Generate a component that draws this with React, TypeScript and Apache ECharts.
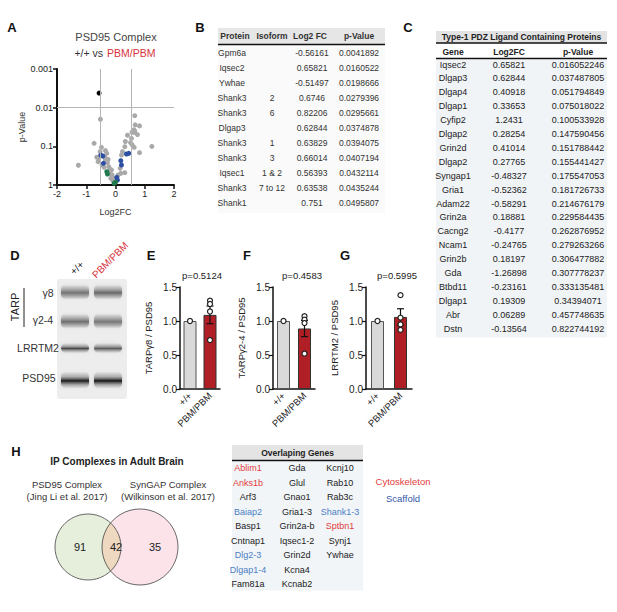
import React, { useEffect, useRef } from 'react';
import * as echarts from 'echarts';

const FONT = '"Liberation Sans", Arial, Helvetica, sans-serif';

// ---------- Panel A: volcano ----------
const volcanoGray: [number, number][] = [
  [0.658, 0.0161], [0.6746, 0.0279], [0.822, 0.0296], [0.628, 0.0375], [0.638, 0.0394],
  [0.66, 0.0407], [0.564, 0.0432], [0.635, 0.0435], [0.751, 0.0496], [0.41, 0.0518],
  [0.547, 0.062], [0.337, 0.075], [0.512, 0.08], [0.57, 0.092], [0.638, 0.106],
  [0.318, 0.102], [1.243, 0.1005], [0.238, 0.137], [0.204, 0.168], [0.821, 0.146],
  [0.159, 0.371], [0.318, 0.48], [0.181, 0.499], [0.09, 0.55], [-0.115, 0.55],
  [-0.161, 0.673], [-0.207, 0.499], [-0.093, 0.77], [-0.024, 0.686],
  [-0.732, 0.0836], [-0.481, 0.106], [-0.344, 0.129], [-0.298, 0.152], [-0.572, 0.204],
  [-0.344, 0.225], [-0.595, 0.249], [-0.458, 0.304], [-0.275, 0.265], [-0.23, 0.336],
  [-0.39, 0.349], [-0.184, 0.394], [-0.138, 0.409], [-0.207, 0.48], [-0.367, 0.192],
  [-0.527, 0.137], [-0.64, 0.192], [-0.252, 0.217], [-1.269, 0.3078], [-0.515, 0.0199],
];
const volcanoBlue: [number, number][] = [
  [0.455, 0.152], [0.375, 0.158], [0.181, 0.235], [0.204, 0.304], [0.044, 0.634],
  [0.067, 0.743], [-0.504, 0.168], [-0.435, 0.178], [-0.412, 0.275],
];
const volcanoGreen: [number, number][] = [[-0.298, 0.452], [-0.275, 0.52], [0.0, 0.85], [-0.047, 0.9]];
const volcanoBlack: [number, number][] = [[-0.56161, 0.0041892]];
const FC_LINES = [-0.53, 0.53];
const P_LINE = 0.01;

// ---------- Panel B table ----------
const bProtein = ['Gpm6a', 'Iqsec2', 'Ywhae', 'Shank3', 'Shank3', 'Dlgap3', 'Shank3', 'Shank3', 'Iqsec1', 'Shank3', 'Shank1'];
const bIsoform = ['', '', '', '2', '6', '', '1', '3', '1 & 2', '7 to 12', ''];
const bLog2 = [-0.56161, 0.65821, -0.51497, 0.6746, 0.82206, 0.62844, 0.63829, 0.66014, 0.56393, 0.63538, 0.751];
const bP = [0.0041892, 0.0160522, 0.0198666, 0.0279396, 0.0295661, 0.0374878, 0.0394075, 0.0407194, 0.0432114, 0.0435244, 0.0495807];

// ---------- Panel C table ----------
const cGene = ['Iqsec2', 'Dlgap3', 'Dlgap4', 'Dlgap1', 'Cyfip2', 'Dlgap2', 'Grin2d', 'Dlgap2', 'Syngap1', 'Gria1',
  'Adam22', 'Grin2a', 'Cacng2', 'Ncam1', 'Grin2b', 'Gda', 'Btbd11', 'Dlgap1', 'Abr', 'Dstn'];
const cLog2 = [0.65821, 0.62844, 0.40918, 0.33653, 1.2431, 0.28254, 0.41014, 0.27765, -0.48327, -0.52362,
  -0.58291, 0.18881, -0.4177, -0.24765, 0.18197, -1.26898, -0.23161, 0.19309, 0.06289, -0.13564];
const cP = [0.016052246, 0.037487805, 0.051794849, 0.075018022, 0.100533928, 0.147590456, 0.151788442, 0.155441427,
  0.175547053, 0.181726733, 0.214676179, 0.229584435, 0.262876952, 0.279263266, 0.306477882, 0.307778237,
  0.333135481, 0.34394071, 0.457748635, 0.822744192];

// ---------- Panels E-G ----------
const barCats = ['+/+', 'PBM/PBM'];
const barNames = ['TARPγ8 / PSD95', 'TARPγ2-4 / PSD95', 'LRRTM2 / PSD95'];
const barPvals = ['p=0.5124', 'p=0.4583', 'p=0.5995'];
const wtMeans = [1.0, 1.0, 1.0];
const pbmMeans = [1.09, 0.89, 1.06];
const pbmSems = [0.13, 0.12, 0.12];
const pbmDots = [[1.3, 1.25, 1.14, 0.72], [1.07, 1.02, 0.97, 0.52], [1.38, 1.05, 0.95, 0.87]];
const barTicks = [0, 0.5, 1.0, 1.5];

// ---------- Panel H ----------
const vennCounts = [91, 42, 35];
const vennSets = ['PSD95 Complex', 'SynGAP Complex'];
const vennRefs = ['(Jing Li et al. 2017)', '(Wilkinson et al. 2017)'];
const overlapCols: [string, string][][] = [
  [['Ablim1', 'c'], ['Anks1b', 'c'], ['Arf3', ''], ['Baiap2', 's'], ['Basp1', ''], ['Cntnap1', ''], ['Dlg2-3', 's'], ['Dlgap1-4', 's'], ['Fam81a', '']],
  [['Gda', ''], ['Glul', ''], ['Gnao1', ''], ['Gria1-3', ''], ['Grin2a-b', ''], ['Iqsec1-2', ''], ['Grin2d', ''], ['Kcna4', ''], ['Kcnab2', '']],
  [['Kcnj10', ''], ['Rab10', ''], ['Rab3c', ''], ['Shank1-3', 's'], ['Sptbn1', 'c'], ['Synj1', ''], ['Ywhae', '']],
];

const RED = '#e23b3b';
const BLUE = '#4d80c4';

function txt(x: number, y: number, text: string, o: any = {}) {
  return {
    type: 'text', x, y, rotation: o.rotation || 0, z: o.z || 10,
    style: {
      text, fill: o.color || '#222', fontSize: o.size || 9, fontWeight: o.weight || 'normal',
      fontFamily: FONT, textAlign: o.align || 'center', textVerticalAlign: o.valign || 'middle',
    },
  };
}
function rect(x: number, y: number, w: number, h: number, fill: string, z = 1) {
  return { type: 'rect', z, shape: { x, y, width: w, height: h }, style: { fill } };
}
function hline(x1: number, x2: number, y: number, w = 1.5, color = '#111') {
  return { type: 'line', z: 5, shape: { x1, y1: y, x2, y2: y }, style: { stroke: color, lineWidth: w } };
}

export default function App() {
  const ref = useRef<HTMLDivElement>(null);
  useEffect(() => {
    const el = ref.current!;
    const chart = echarts.init(el, null, { renderer: 'svg' });

    // Venn geometry and lens polygon
    const c1 = { x: 88, y: 547, r: 33 };
    const c2 = { x: 140, y: 547, r: 38 };
    const d = c2.x - c1.x;
    const a = (d * d + c1.r * c1.r - c2.r * c2.r) / (2 * d);
    const h = Math.sqrt(c1.r * c1.r - a * a);
    const phi2 = Math.atan2(h, c2.x - (c1.x + a));
    const phi1 = Math.atan2(h, a);
    const lens: number[][] = [];
    const N = 40;
    for (let k = 0; k <= N; k++) {
      const s = phi2 - (2 * phi2 * k) / N;
      lens.push([c2.x - c2.r * Math.cos(s), c2.y - c2.r * Math.sin(s)]);
    }
    for (let k = 0; k <= N; k++) {
      const s = phi1 - (2 * phi1 * k) / N;
      lens.push([c1.x + c1.r * Math.cos(s), c1.y + c1.r * Math.sin(s)]);
    }

    const graphics: any[] = [];
    // panel letters
    [['A', 12, 27], ['B', 200, 27], ['C', 408, 27], ['D', 15, 255], ['E', 151, 255], ['F', 247, 255], ['G', 345, 255], ['H', 16, 451]]
      .forEach(([l, x, y]) => graphics.push(txt(x as number, y as number, l as string, { size: 13, weight: 'bold', color: '#111' })));

    // Panel A titles
    graphics.push(txt(116, 37, 'PSD95 Complex', { size: 11, color: '#444' }));
    graphics.push(txt(106, 53, '+/+ vs ', { size: 10.5, color: '#333', align: 'right' }));
    graphics.push(txt(107, 53, 'PBM/PBM', { size: 10.5, color: '#d8333d', align: 'left' }));

    // Panel B table
    const bx0 = 218, bx1 = 385;
    graphics.push(rect(bx0, 28, bx1 - bx0, 16, '#e6e6e6'));
    graphics.push(rect(bx0, 45, bx1 - bx0, 168, '#fafafa'));
    graphics.push(hline(bx0, bx1, 44.5, 1.6));
    const bCols = [235, 272, 310, 359];
    ['Protein', 'Isoform', 'Log2 FC', 'p-Value'].forEach((t, i) => graphics.push(txt(bCols[i], 36, t, { size: 8.5, weight: 'bold', color: '#333' })));
    bProtein.forEach((p, i) => {
      const y = 53 + i * 15;
      graphics.push(txt(bCols[0] - 3, y, p, { size: 8.5, color: '#333' }));
      graphics.push(txt(bCols[1], y, bIsoform[i], { size: 8.5, color: '#333' }));
      graphics.push(txt(bCols[2] + 2, y, String(bLog2[i]), { size: 8.5, color: '#333' }));
      graphics.push(txt(bCols[3], y, String(bP[i]), { size: 8.5, color: '#333' }));
    });

    // Panel C table
    const cx0 = 436, cx1 = 607;
    graphics.push(rect(cx0, 31, cx1 - cx0, 12, '#e3e3e3'));
    graphics.push(hline(cx0, cx1, 43, 1.6));
    graphics.push(txt((cx0 + cx1) / 2, 37, 'Type-1 PDZ Ligand Containing Proteins', { size: 8.5, weight: 'bold', color: '#222' }));
    const cCols = [453, 509, 578];
    ['Gene', 'Log2FC', 'p-Value'].forEach((t, i) => graphics.push(txt(cCols[i], 51.5, t, { size: 8.5, weight: 'bold', color: '#222' })));
    graphics.push(hline(cx0, cx1, 58.5, 1.6));
    graphics.push(rect(cx0, 59.5, cx1 - cx0, 278, '#f1f4f7'));
    cGene.forEach((g, i) => {
      const y = 64.5 + i * 13.9;
      graphics.push(txt(cCols[0], y, g, { size: 9, color: '#222' }));
      graphics.push(txt(cCols[1], y, String(cLog2[i]), { size: 9, color: '#222' }));
      graphics.push(txt(cCols[2], y, String(cP[i]), { size: 9, color: '#222' }));
    });

    // Panel D blot
    graphics.push(txt(77, 268, '+/+', { size: 10, color: '#222', rotation: Math.PI / 4 }));
    graphics.push(txt(110, 260, 'PBM/PBM', { size: 10, color: '#d8333d', rotation: Math.PI / 4 }));
    graphics.push(txt(15, 307, 'TARP', { size: 11, color: '#222', rotation: Math.PI / 2 }));
    graphics.push({ type: 'line', z: 5, shape: { x1: 24, y1: 288, x2: 24, y2: 327 }, style: { stroke: '#222', lineWidth: 1 } });
    graphics.push(txt(48, 293, 'γ8', { size: 10.5, color: '#333' }));
    graphics.push(txt(43, 320, 'γ2-4', { size: 10.5, color: '#333' }));
    graphics.push(txt(38, 348, 'LRRTM2', { size: 10.5, color: '#333' }));
    graphics.push(txt(39, 378, 'PSD95', { size: 10.5, color: '#333' }));
    graphics.push({ type: 'rect', z: 1, shape: { x: 57, y: 279, width: 70, height: 120, r: 3 }, style: { fill: '#ededed' } });
    const lanes = [61, 94];
    const bands = [
      { y: 292, h: 15, c: ['rgba(100,100,100,0.85)', 'rgba(95,95,95,0.9)'] },
      { y: 321, h: 15, c: ['rgba(95,95,95,0.85)', 'rgba(100,100,100,0.8)'] },
      { y: 348, h: 10, c: ['rgba(60,60,60,0.9)', 'rgba(75,75,75,0.85)'] },
      { y: 380, h: 17, c: ['rgba(20,20,20,1)', 'rgba(15,15,15,1)'] },
    ];
    bands.forEach((b) => lanes.forEach((lx, li) => {
      graphics.push({
        type: 'rect', z: 2, shape: { x: lx, y: b.y - b.h / 2, width: 28, height: b.h, r: 5 },
        style: {
          shadowBlur: 3, shadowColor: 'rgba(120,120,120,0.5)',
          fill: new echarts.graphic.LinearGradient(0, 0, 0, 1, [
            { offset: 0, color: 'rgba(140,140,140,0)' },
            { offset: 0.3, color: 'rgba(130,130,130,0.45)' },
            { offset: 0.55, color: b.c[li] },
            { offset: 0.8, color: 'rgba(130,130,130,0.45)' },
            { offset: 1, color: 'rgba(140,140,140,0)' },
          ]),
        },
      });
    }));

    // E-G p labels
    const pX = [202, 302, 397];
    barPvals.forEach((p, i) => graphics.push(txt(pX[i], 275, p, { size: 9.5, color: '#222' })));

    // Panel H Venn
    graphics.push(txt(117, 461, 'IP Complexes in Adult Brain', { size: 10, weight: 'bold', color: '#222' }));
    graphics.push(txt(67, 484, vennSets[0], { size: 9.5, color: '#333' }));
    graphics.push(txt(67, 496, vennRefs[0], { size: 9.5, color: '#333' }));
    graphics.push(txt(168, 484, vennSets[1], { size: 9.5, color: '#333' }));
    graphics.push(txt(168, 496, vennRefs[1], { size: 9.5, color: '#333' }));
    graphics.push({ type: 'circle', z: 1, shape: { cx: c1.x, cy: c1.y, r: c1.r }, style: { fill: '#e5efdb' } });
    graphics.push({ type: 'circle', z: 1, shape: { cx: c2.x, cy: c2.y, r: c2.r }, style: { fill: '#fce3ea' } });
    graphics.push({ type: 'polygon', z: 2, shape: { points: lens }, style: { fill: '#efd8c0' } });
    graphics.push({ type: 'circle', z: 3, shape: { cx: c1.x, cy: c1.y, r: c1.r }, style: { fill: 'none', stroke: '#444', lineWidth: 0.8 } });
    graphics.push({ type: 'circle', z: 3, shape: { cx: c2.x, cy: c2.y, r: c2.r }, style: { fill: 'none', stroke: '#444', lineWidth: 0.8 } });
    graphics.push(txt(80, 547, String(vennCounts[0]), { size: 11, color: '#222' }));
    graphics.push(txt(116, 547, String(vennCounts[1]), { size: 11, color: '#222' }));
    graphics.push(txt(155, 547, String(vennCounts[2]), { size: 11, color: '#222' }));

    // Overlapping genes table
    const ox0 = 232, ox1 = 363;
    graphics.push(rect(ox0, 445, ox1 - ox0, 15, '#e4e4e4'));
    graphics.push(hline(ox0, ox1, 460.5, 1.6));
    graphics.push(rect(ox0, 461.5, ox1 - ox0, 129, '#f1f5f8'));
    graphics.push(txt((ox0 + ox1) / 2, 453, 'Overlaping Genes', { size: 8.5, weight: 'bold', color: '#222' }));
    const oCols = [248, 297, 340];
    overlapCols.forEach((col, ci) => col.forEach(([g, k], ri) => {
      graphics.push(txt(oCols[ci], 468.3 + ri * 14.46, g, { size: 9, color: k === 'c' ? RED : k === 's' ? BLUE : '#222' }));
    }));
    graphics.push(txt(403, 481, 'Cytoskeleton', { size: 9.5, color: RED }));
    graphics.push(txt(403, 498, 'Scaffold', { size: 9.5, color: '#3558a8' }));

    // ---------- axes ----------
    const grids: any[] = [{ left: 57, top: 69, width: 117, height: 116 }];
    const xAxes: any[] = [{
      gridIndex: 0, type: 'value', min: -2, max: 2, interval: 1,
      axisLine: { show: true, onZero: false, lineStyle: { color: '#111', width: 2 } },
      axisTick: { show: true, length: 4, lineStyle: { color: '#111', width: 1.5 } },
      axisLabel: { fontSize: 9, color: '#222', margin: 4, fontFamily: FONT },
      splitLine: { show: false },
      name: 'Log2FC', nameLocation: 'middle', nameGap: 22,
      nameTextStyle: { fontSize: 9, color: '#333', fontFamily: FONT },
    }];
    const yAxes: any[] = [{
      gridIndex: 0, type: 'log', logBase: 10, min: 0.001, max: 1, inverse: true,
      axisLine: { show: true, onZero: false, lineStyle: { color: '#111', width: 2 } },
      axisTick: { show: true, length: 4, lineStyle: { color: '#111', width: 1.5 } },
      axisLabel: { fontSize: 9, color: '#222', margin: 4, fontFamily: FONT, formatter: (v: number) => String(Number(v.toPrecision(1))) },
      splitLine: { show: false }, minorTick: { show: false },
      name: 'p-Value', nameLocation: 'middle', nameGap: 31, nameRotate: 90,
      nameTextStyle: { fontSize: 9, color: '#333', fontFamily: FONT },
    }];
    const series: any[] = [
      {
        type: 'scatter', xAxisIndex: 0, yAxisIndex: 0, data: [], z: 1,
        markLine: {
          silent: true, symbol: 'none', label: { show: false },
          lineStyle: { color: '#b5b5b5', width: 1, type: 'solid' },
          data: [...FC_LINES.map((v) => ({ xAxis: v })), { yAxis: P_LINE }],
        },
      },
      { type: 'scatter', xAxisIndex: 0, yAxisIndex: 0, data: volcanoGray, symbolSize: 5, z: 3, itemStyle: { color: '#a9a9a9', opacity: 1 } },
      { type: 'scatter', xAxisIndex: 0, yAxisIndex: 0, data: volcanoBlue, symbolSize: 5, z: 4, itemStyle: { color: '#2c4fa3', opacity: 1 } },
      { type: 'scatter', xAxisIndex: 0, yAxisIndex: 0, data: volcanoGreen, symbolSize: 5, z: 4, itemStyle: { color: '#1f7a4d', opacity: 1 } },
      { type: 'scatter', xAxisIndex: 0, yAxisIndex: 0, data: volcanoBlack, symbolSize: 5, z: 4, itemStyle: { color: '#000', opacity: 1 } },
    ];

    const barLefts = [180, 273, 366];
    const barWidths = [40, 42, 46];
    barNames.forEach((name, i) => {
      const gi = i + 1;
      grids.push({ left: barLefts[i], top: 287, width: barWidths[i], height: 102 });
      xAxes.push({
        gridIndex: gi, type: 'category', data: barCats,
        axisLine: { show: true, lineStyle: { color: '#111', width: 1.5 } },
        axisTick: { show: false },
        axisLabel: { interval: 0, rotate: 45, fontSize: 9.5, color: '#222', margin: 5, fontFamily: FONT },
      });
      yAxes.push({
        gridIndex: gi, type: 'value', min: barTicks[0], max: barTicks[barTicks.length - 1], interval: barTicks[1] - barTicks[0],
        axisLine: { show: true, lineStyle: { color: '#111', width: 1.5 } },
        axisTick: { show: true, length: 4, lineStyle: { color: '#111', width: 1.2 } },
        axisLabel: { fontSize: 10, color: '#222', margin: 3, fontFamily: FONT, formatter: (v: number) => v.toFixed(1) },
        splitLine: { show: false },
        name, nameLocation: 'middle', nameGap: 27, nameRotate: 90,
        nameTextStyle: { fontSize: 9.5, color: '#222', fontFamily: FONT },
      });
      series.push({
        type: 'bar', xAxisIndex: gi, yAxisIndex: gi, barWidth: 13, z: 2,
        data: [
          { value: wtMeans[i], itemStyle: { color: '#d9d9d9', borderColor: '#555', borderWidth: 1 } },
          { value: pbmMeans[i], itemStyle: { color: '#b11f26', borderColor: '#333', borderWidth: 1 } },
        ],
      });
      series.push({
        type: 'custom', xAxisIndex: gi, yAxisIndex: gi, z: 3,
        data: [[1, pbmMeans[i] - pbmSems[i], pbmMeans[i] + pbmSems[i]]],
        encode: { x: 0, y: [1, 2] },
        renderItem: (params: any, api: any) => {
          const cx = api.value(0);
          const lo = api.coord([cx, api.value(1)]);
          const hi = api.coord([cx, api.value(2)]);
          const w = 3.5;
          const st = { stroke: '#111', lineWidth: 1.2 };
          return {
            type: 'group', children: [
              { type: 'line', shape: { x1: lo[0], y1: lo[1], x2: hi[0], y2: hi[1] }, style: st },
              { type: 'line', shape: { x1: hi[0] - w, y1: hi[1], x2: hi[0] + w, y2: hi[1] }, style: st },
              { type: 'line', shape: { x1: lo[0] - w, y1: lo[1], x2: lo[0] + w, y2: lo[1] }, style: st },
            ],
          };
        },
      });
      series.push({
        type: 'scatter', xAxisIndex: gi, yAxisIndex: gi, z: 4, symbolSize: 5,
        data: [[0, wtMeans[i]], ...pbmDots[i].map((v) => [1, v])],
        itemStyle: { color: '#fff', borderColor: '#222', borderWidth: 1.2, opacity: 1 },
      });
    });

    chart.setOption({
      animation: false,
      backgroundColor: '#fff',
      textStyle: { fontFamily: FONT },
      grid: grids,
      xAxis: xAxes,
      yAxis: yAxes,
      series,
      graphic: { elements: graphics },
    });
    return () => chart.dispose();
  }, []);
  return <div ref={ref} style={{ position: 'absolute', left: 0, top: 0, width: 617, height: 612, background: '#fff' }} />;
}
